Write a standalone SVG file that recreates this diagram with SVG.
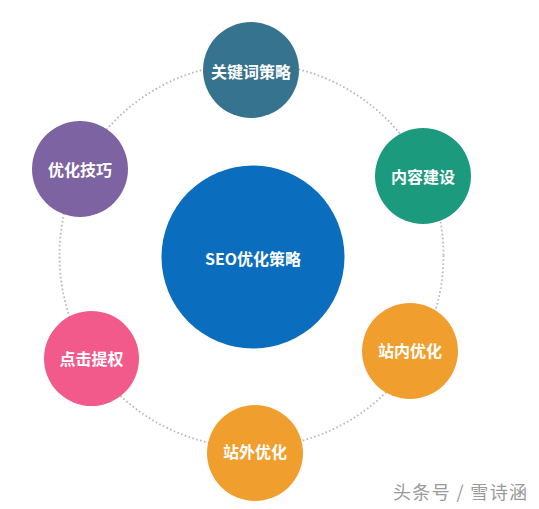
<svg xmlns="http://www.w3.org/2000/svg" width="539" height="509" viewBox="0 0 539 509">
<style>
.lbl{font-family:"Noto Sans CJK SC","Microsoft YaHei",sans-serif;font-size:16px;font-weight:bold;fill:#ffffff;text-anchor:middle;dominant-baseline:central}
.ring{fill:none;stroke:#b8b8b8;stroke-width:1.8;stroke-dasharray:1.6 2.4}
.wm{font-family:"Noto Sans CJK SC",sans-serif;font-size:18px;fill:#9a9a9a}
</style>
<rect width="539" height="509" fill="#ffffff"/>
<g id="connectors">
<circle class="ring" cx="251.5" cy="255.5" r="192"/>
</g>
<g id="center">
<circle cx="253" cy="257" r="91.5" fill="#0a6dbd"/>
<text class="lbl" x="253" y="258">SEO优化策略</text>
</g>
<g id="n1">
<circle cx="251" cy="70" r="48" fill="#36738e"/>
<text class="lbl" x="251" y="71">关键词策略</text>
</g>
<g id="n2">
<circle cx="423" cy="176" r="48" fill="#1b9a7e"/>
<text class="lbl" x="423" y="176">内容建设</text>
</g>
<g id="n3">
<circle cx="410" cy="351" r="48" fill="#f09e2d"/>
<text class="lbl" x="410" y="350">站内优化</text>
</g>
<g id="n4">
<circle cx="255" cy="453" r="48" fill="#f09e2d"/>
<text class="lbl" x="255" y="451">站外优化</text>
</g>
<g id="n5">
<circle cx="91.5" cy="358.5" r="47.5" fill="#f25a8b"/>
<text class="lbl" x="91.5" y="358">点击提权</text>
</g>
<g id="n6">
<circle cx="80" cy="169" r="48" fill="#7d63a2"/>
<text class="lbl" x="80" y="169">优化技巧</text>
</g>
<text class="wm" x="393" y="499" textLength="134" lengthAdjust="spacing">头条号 / 雪诗涵</text>
</svg>
